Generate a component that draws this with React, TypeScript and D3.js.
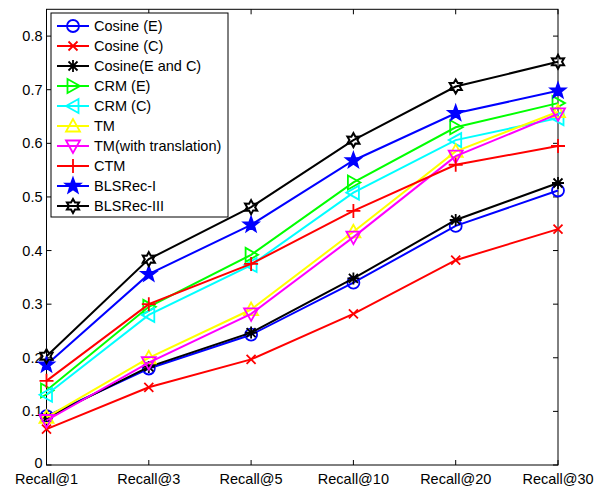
import React from 'react';
import * as d3 from 'd3';

const categories = ['Recall@1', 'Recall@3', 'Recall@5', 'Recall@10', 'Recall@20', 'Recall@30'];
const yTicks = [0, 0.1, 0.2, 0.3, 0.4, 0.5, 0.6, 0.7, 0.8];

const cosineE = [0.091, 0.180, 0.243, 0.340, 0.446, 0.512];
const cosineC = [0.067, 0.145, 0.197, 0.282, 0.382, 0.440];
const cosineEC = [0.088, 0.183, 0.247, 0.348, 0.457, 0.526];
const crmE = [0.139, 0.295, 0.392, 0.527, 0.630, 0.675];
const crmC = [0.131, 0.280, 0.373, 0.508, 0.606, 0.647];
const tm = [0.089, 0.200, 0.290, 0.435, 0.585, 0.659];
const tmTrans = [0.083, 0.191, 0.282, 0.425, 0.576, 0.655];
const ctm = [0.157, 0.300, 0.375, 0.474, 0.560, 0.595];
const blsI = [0.187, 0.356, 0.448, 0.568, 0.656, 0.698];
const blsIII = [0.203, 0.384, 0.481, 0.606, 0.706, 0.752];

const seriesNames = ['Cosine (E)', 'Cosine (C)', 'Cosine(E and C)', 'CRM (E)', 'CRM (C)', 'TM', 'TM(with translation)', 'CTM', 'BLSRec-I', 'BLSRec-III'];
const seriesValues = [cosineE, cosineC, cosineEC, crmE, crmC, tm, tmTrans, ctm, blsI, blsIII];
const seriesColors = ['#0000ff', '#ff0000', '#000000', '#00ff00', '#00ffff', '#ffff00', '#ff00ff', '#ff0000', '#0000ff', '#000000'];
const seriesMarkers = ['circle', 'x', 'asterisk', 'triRight', 'triLeft', 'triUp', 'triDown', 'plus', 'pentagram', 'hexagram'];

const W = 603, H = 487;
const L = 46.5, R = 558, T = 9.3, B = 465;
const FONT = 'Arial, "Liberation Sans", Helvetica, sans-serif';

function starPath(n: number, ro: number, ri: number, rot: number) {
  const pts: string[] = [];
  for (let i = 0; i < 2 * n; i++) {
    const r = i % 2 === 0 ? ro : ri;
    const a = rot + (i * Math.PI) / n;
    pts.push(`${(r * Math.cos(a)).toFixed(2)},${(r * Math.sin(a)).toFixed(2)}`);
  }
  return 'M' + pts.join('L') + 'Z';
}

function Marker({ type, color, x, y }: { type: string; color: string; x: number; y: number }) {
  const sw = 1.8;
  const t = `translate(${x},${y})`;
  const common = { stroke: color, strokeWidth: sw, fill: 'none', transform: t } as any;
  switch (type) {
    case 'circle':
      return <circle cx={x} cy={y} r={6} stroke={color} strokeWidth={sw} fill="none" />;
    case 'x':
      return <path {...common} d="M-4.5,-4.5L4.5,4.5M-4.5,4.5L4.5,-4.5" />;
    case 'plus':
      return <path {...common} d="M-7,0L7,0M0,-7L0,7" />;
    case 'asterisk':
      return <path {...common} d="M-6,0L6,0M0,-6L0,6M-4.5,-4.5L4.5,4.5M-4.5,4.5L4.5,-4.5" />;
    case 'triRight':
      return <path {...common} d="M7,0L-5.5,-7L-5.5,7Z" />;
    case 'triLeft':
      return <path {...common} d="M-7,0L5.5,-7L5.5,7Z" />;
    case 'triUp':
      return <path {...common} d="M0,-7L-7,5.5L7,5.5Z" />;
    case 'triDown':
      return <path {...common} d="M0,7L-7,-5.5L7,-5.5Z" />;
    case 'pentagram':
      return <path {...common} fill={color} d={starPath(5, 7.8, 3.2, -Math.PI / 2)} />;
    case 'hexagram':
      return <path {...common} strokeWidth={2} d={starPath(6, 7, 4, -Math.PI / 2)} />;
  }
  return null;
}

export default function App() {
  const x = d3.scalePoint<string>().domain(categories).range([L, R]);
  const y = d3.scaleLinear().domain([0, 0.85]).range([B, T]);
  const line = d3.line<number>().x((_, i) => x(categories[i]) as number).y((d) => y(d));

  const legX = 51, legY = 13, legW = 177, legH = 204;
  const rowH = 20;

  return (
    <svg width={W} height={H} style={{ position: 'absolute', left: 0, top: 0, background: '#fff' }} fontFamily={FONT}>
      <rect x={0} y={0} width={W} height={H} fill="#fff" />
      {/* axes box */}
      <rect x={L} y={T} width={R - L} height={B - T} fill="none" stroke="#000" strokeWidth={1} />
      {yTicks.map((v) => (
        <g key={v}>
          <line x1={L} x2={L + 5} y1={y(v)} y2={y(v)} stroke="#000" />
          <line x1={R} x2={R - 5} y1={y(v)} y2={y(v)} stroke="#000" />
          <text x={L - 4} y={y(v) - (v === 0 ? 2 : 0)} textAnchor="end" dominantBaseline="central" fontSize={14.5}>
            {v === 0 ? '0' : v.toFixed(1)}
          </text>
        </g>
      ))}
      {categories.map((c) => (
        <g key={c}>
          <line x1={x(c)} x2={x(c)} y1={B} y2={B - 5} stroke="#000" />
          <line x1={x(c)} x2={x(c)} y1={T} y2={T + 5} stroke="#000" />
          <text x={x(c)} y={478.5} textAnchor="middle" dominantBaseline="central" fontSize={14.5}>
            {c}
          </text>
        </g>
      ))}
      {/* series */}
      {seriesValues.map((vals, si) => (
        <g key={si}>
          <path d={line(vals) as string} fill="none" stroke={seriesColors[si]} strokeWidth={2} />
          {vals.map((v, i) => (
            <Marker key={i} type={seriesMarkers[si]} color={seriesColors[si]} x={x(categories[i]) as number} y={y(v)} />
          ))}
        </g>
      ))}
      {/* legend */}
      <rect x={legX} y={legY} width={legW} height={legH} fill="#fff" stroke="#000" strokeWidth={1} />
      {seriesNames.map((n, i) => {
        const cy = legY + 13 + i * rowH;
        return (
          <g key={n}>
            <line x1={57} x2={89} y1={cy} y2={cy} stroke={seriesColors[i]} strokeWidth={2} />
            <Marker type={seriesMarkers[i]} color={seriesColors[i]} x={73} y={cy} />
            <text x={94} y={cy} dominantBaseline="central" fontSize={14.5}>
              {n}
            </text>
          </g>
        );
      })}
    </svg>
  );
}
